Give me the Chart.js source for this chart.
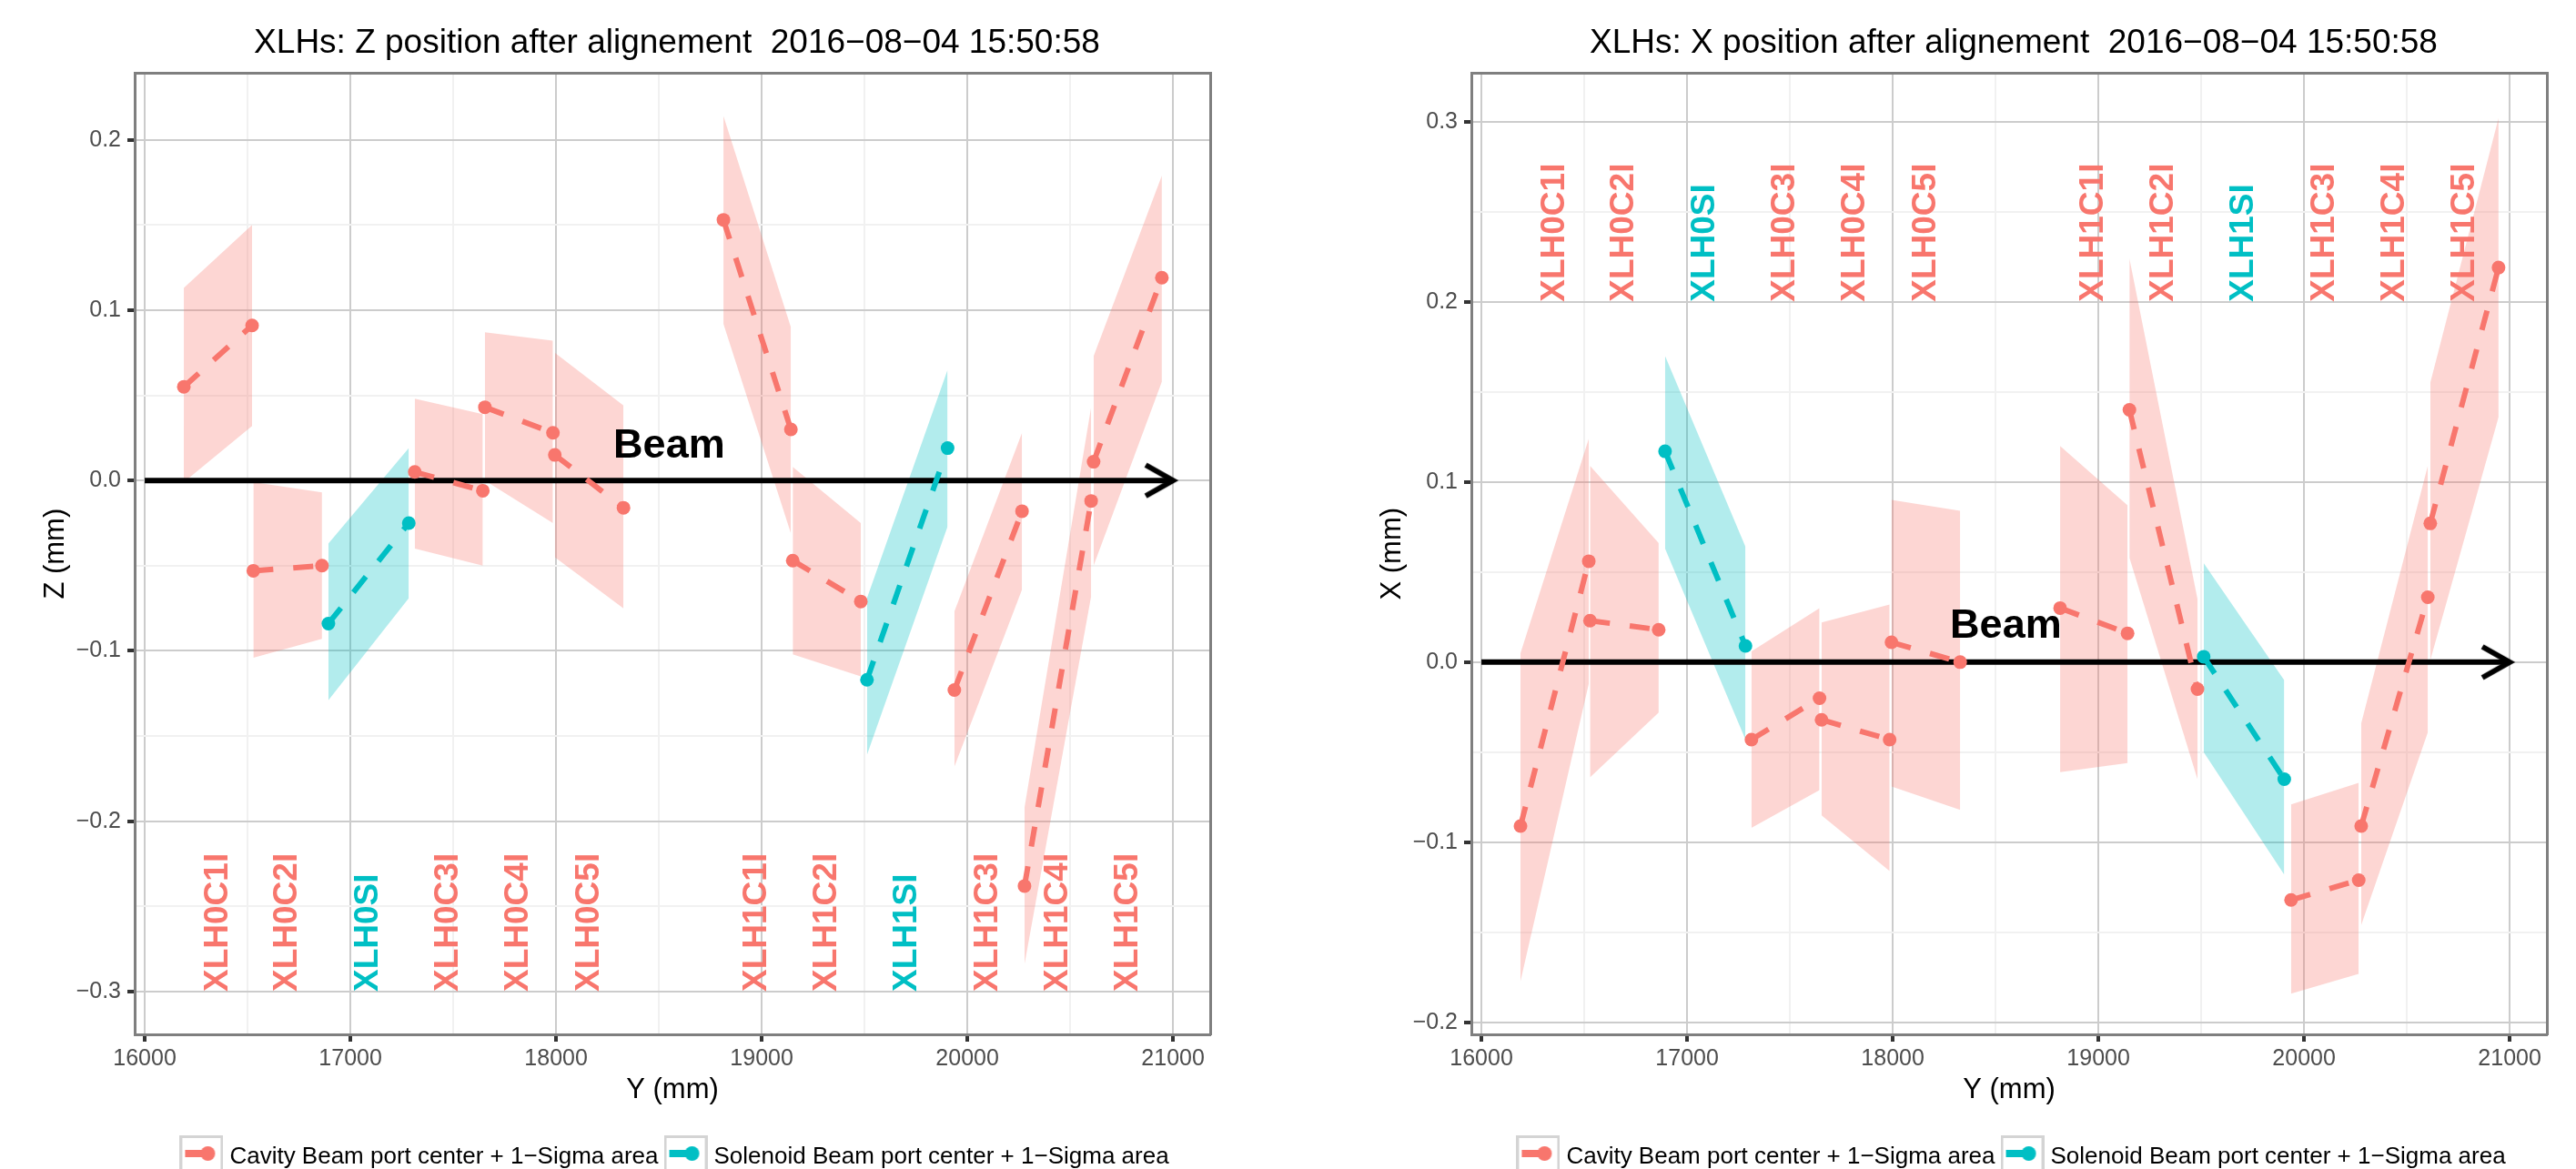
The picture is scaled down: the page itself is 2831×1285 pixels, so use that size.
<!DOCTYPE html>
<html>
<head>
<meta charset="utf-8">
<title>XLHs position after alignement</title>
<script src="https://cdn.jsdelivr.net/npm/chart.js@4.4.1/dist/chart.umd.min.js"></script>
<style>
  html, body { margin: 0; padding: 0; background: #fff; overflow: hidden; width: 2831px; height: 1285px; }
  canvas { position: absolute; top: 0; }
  #grafico-z { left: 0; }
  #grafico-x { left: 1469px; }
</style>
</head>
<body>
<canvas id="grafico-z" width="1488" height="1295" style="width:1488px;height:1295px"></canvas>
<canvas id="grafico-x" width="1488" height="1295" style="width:1488px;height:1295px"></canvas>
<script>
// Elementos do cryomodule (ordem ao longo do feixe)
const elementos = ['XLH0C1I', 'XLH0C2I', 'XLH0SI', 'XLH0C3I', 'XLH0C4I', 'XLH0C5I',
                   'XLH1C1I', 'XLH1C2I', 'XLH1SI', 'XLH1C3I', 'XLH1C4I', 'XLH1C5I'];
const tipos = ['Cavity', 'Cavity', 'Solenoid', 'Cavity', 'Cavity', 'Cavity',
               'Cavity', 'Cavity', 'Solenoid', 'Cavity', 'Cavity', 'Cavity'];

// Posicao Y (mm) das duas extremidades de cada elemento
const yEntrada = [16190, 16528, 16893, 17313, 17654, 17994, 18814, 19151, 19512, 19937, 20278, 20614];
const ySaida   = [16522, 16862, 17284, 17644, 17985, 18328, 19142, 19482, 19904, 20266, 20602, 20946];

// Painel Z: centro + area 1-sigma
const zEntrada    = [0.055, -0.053, -0.084, 0.005, 0.043, 0.015, 0.153, -0.047, -0.117, -0.123, -0.238, 0.011];
const zSaida      = [0.091, -0.050, -0.025, -0.006, 0.028, -0.016, 0.030, -0.071, 0.019, -0.018, -0.012, 0.119];
const zEntradaMin = [-0.001, -0.104, -0.129, -0.040, 0.000, -0.045, 0.092, -0.102, -0.161, -0.168, -0.284, -0.050];
const zEntradaMax = [0.113, -0.001, -0.037, 0.048, 0.087, 0.075, 0.214, 0.008, -0.069, -0.077, -0.192, 0.073];
const zSaidaMin   = [0.032, -0.093, -0.069, -0.050, -0.025, -0.075, -0.031, -0.115, -0.027, -0.064, -0.068, 0.058];
const zSaidaMax   = [0.150, -0.007, 0.019, 0.039, 0.082, 0.044, 0.090, -0.025, 0.065, 0.028, 0.043, 0.179];

// Painel X: centro + area 1-sigma
const xEntrada    = [-0.091, 0.023, 0.117, -0.043, -0.032, 0.011, 0.030, 0.140, 0.003, -0.132, -0.091, 0.077];
const xSaida      = [0.056, 0.018, 0.009, -0.020, -0.043, 0.000, 0.016, -0.015, -0.065, -0.121, 0.036, 0.219];
const xEntradaMin = [-0.177, -0.064, 0.063, -0.092, -0.085, -0.069, -0.061, 0.058, -0.050, -0.184, -0.146, 0.001];
const xEntradaMax = [0.005, 0.109, 0.170, 0.006, 0.022, 0.090, 0.120, 0.224, 0.055, -0.079, -0.034, 0.155];
const xSaidaMin   = [-0.012, -0.028, -0.043, -0.071, -0.116, -0.082, -0.056, -0.065, -0.118, -0.173, -0.039, 0.136];
const xSaidaMax   = [0.124, 0.066, 0.064, 0.030, 0.032, 0.084, 0.087, 0.035, -0.010, -0.067, 0.109, 0.302];

// Eixos
const posYMaiores = [16000, 17000, 18000, 19000, 20000, 21000];
const posYMenores = [16500, 17500, 18500, 19500, 20500];
const zMaiores = [-0.3, -0.2, -0.1, 0, 0.1, 0.2];
const zMenores = [-0.25, -0.15, -0.05, 0.05, 0.15];
const xMaiores = [-0.2, -0.1, 0, 0.1, 0.2, 0.3];
const xMenores = [-0.15, -0.05, 0.05, 0.15, 0.25];

// Seta do feixe e texto "Beam"
const feixeInicio = 16000;
const feixeFim = 21000;
const textoFeixe = { y: 18550, v: 0.02 };

const FONTE = '"Liberation Sans", Arial, Helvetica, sans-serif';
const cores = { Cavity: '#F8766D', Solenoid: '#00BFC4' };
const coresFaixa = { Cavity: 'rgba(248, 118, 109, 0.3)', Solenoid: 'rgba(0, 191, 196, 0.3)' };

Chart.defaults.font.family = FONTE;

/**
 * Desenha a ponta aberta da seta (a ponta fica no centro da imagem)
 */
function criarPontaSeta() {
  const c = document.createElement('canvas');
  c.width = 80; c.height = 48;
  const g = c.getContext('2d');
  g.strokeStyle = '#000';
  g.lineWidth = 6;
  g.lineJoin = 'miter';
  g.beginPath();
  g.moveTo(10, 7);
  g.lineTo(40, 24);
  g.lineTo(10, 41);
  g.stroke();
  return c;
}

/**
 * Chave da legenda (caixa cinza + linha + ponto)
 */
function criarChave(cor) {
  const c = document.createElement('canvas');
  c.width = 48; c.height = 48;
  const g = c.getContext('2d');
  g.strokeStyle = '#d4d4d4';
  g.lineWidth = 3;
  g.strokeRect(1.5, 1.5, 45, 45);
  g.fillStyle = cor;
  g.fillRect(6, 16, 32, 8);
  g.beginPath();
  g.arc(31, 20, 8, 0, Math.PI * 2);
  g.fill();
  return c;
}

const pontaSeta = criarPontaSeta();

// Rotulos dos elementos e texto "Beam"
const pluginRotulos = {
  id: 'rotulos',
  afterDatasetsDraw(chart, args, opts) {
    const { ctx, scales } = chart;
    const sx = scales.x, sy = scales.y;
    ctx.save();
    ctx.font = 'bold 37px ' + FONTE;
    ctx.textAlign = 'left';
    ctx.textBaseline = 'middle';
    elementos.forEach((nome, i) => {
      const px = sx.getPixelForValue((yEntrada[i] + ySaida[i]) / 2);
      const py = sy.getPixelForValue(opts.base);
      ctx.save();
      ctx.translate(px, py);
      ctx.rotate(-Math.PI / 2);
      ctx.fillStyle = cores[tipos[i]];
      ctx.fillText(nome, 0, 0);
      ctx.restore();
    });
    ctx.font = 'bold 45px ' + FONTE;
    ctx.textAlign = 'center';
    ctx.fillStyle = '#000';
    ctx.fillText('Beam', sx.getPixelForValue(textoFeixe.y), sy.getPixelForValue(textoFeixe.v));
    ctx.restore();
  }
};

/**
 * Monta os datasets de um painel
 */
function montarDatasets(entrada, saida, eMin, eMax, sMin, sMax) {
  const ds = [];
  elementos.forEach((nome, i) => {
    const tipo = tipos[i];
    // limite inferior da faixa
    ds.push({
      data: [{ x: yEntrada[i], y: eMin[i] }, { x: ySaida[i], y: sMin[i] }],
      borderColor: 'transparent', borderWidth: 0, pointRadius: 0, fill: false, order: 2
    });
    // limite superior, preenchido ate o anterior
    ds.push({
      data: [{ x: yEntrada[i], y: eMax[i] }, { x: ySaida[i], y: sMax[i] }],
      borderColor: 'transparent', borderWidth: 0, pointRadius: 0,
      fill: '-1', backgroundColor: coresFaixa[tipo], order: 2
    });
    // centro do beam port
    ds.push({
      label: nome,
      data: [{ x: yEntrada[i], y: entrada[i] }, { x: ySaida[i], y: saida[i] }],
      borderColor: cores[tipo], borderWidth: 6, borderDash: [22, 22],
      pointRadius: 7.5, pointBackgroundColor: cores[tipo], pointBorderWidth: 0,
      fill: false, order: 0
    });
  });
  // seta do feixe
  ds.push({
    data: [{ x: feixeInicio, y: 0 }, { x: feixeFim, y: 0 }],
    borderColor: '#000', borderWidth: 6, fill: false,
    pointRadius: [0, 1], pointStyle: ['circle', pontaSeta], pointBorderWidth: 0,
    order: 1
  });
  return ds;
}

function formatarValor(v) {
  return (v < 0 ? '\u2212' : '') + Math.abs(v).toFixed(1);
}

/**
 * Cria um painel completo
 */
function criarPainel(idCanvas, titulo, tituloEixo, limites, maiores, menores, baseRotulos, datasets) {
  const ctx = document.getElementById(idCanvas).getContext('2d');
  const corGrade = (lista) => (c) => (c.tick && lista.includes(c.tick.value)) ? '#cccccc' : '#f1f1f1';
  const corTick = (lista) => (c) => (c.tick && lista.includes(c.tick.value)) ? '#333333' : 'rgba(0,0,0,0)';
  const borda = { display: true, color: '#7f7f7f', width: 3 };

  return new Chart(ctx, {
    type: 'line',
    data: { datasets },
    plugins: [pluginRotulos],
    options: {
      responsive: false,
      maintainAspectRatio: false,
      animation: false,
      events: [],
      devicePixelRatio: 1,
      layout: { padding: 0 },
      scales: {
        x: {
          type: 'linear', position: 'bottom', min: 15951, max: 21181,
          afterBuildTicks: (s) => { s.ticks = posYMaiores.concat(posYMenores).sort((a, b) => a - b).map(v => ({ value: v })); },
          afterFit: (s) => { s.height = 110; },
          ticks: {
            autoSkip: false, maxRotation: 0, padding: 4, color: '#4d4d4d', font: { size: 25 },
            callback: (v) => posYMaiores.includes(v) ? String(v) : ''
          },
          grid: { color: corGrade(posYMaiores), lineWidth: 2, tickLength: 8, tickWidth: 4, tickColor: corTick(posYMaiores) },
          border: borda,
          title: { display: true, text: 'Y (mm)', color: '#000', font: { size: 31 }, padding: { top: 0, bottom: 30 } }
        },
        xTopo: {
          type: 'linear', position: 'top', min: 15951, max: 21181,
          afterFit: (s) => { s.height = 0; },
          ticks: { display: false },
          grid: { display: false, drawTicks: false },
          border: borda
        },
        y: {
          type: 'linear', position: 'left', min: limites[0], max: limites[1],
          afterBuildTicks: (s) => { s.ticks = maiores.concat(menores).sort((a, b) => a - b).map(v => ({ value: v })); },
          afterFit: (s) => { s.width = 148; },
          ticks: {
            autoSkip: false, padding: 7, color: '#4d4d4d', font: { size: 25 },
            callback: (v) => maiores.includes(v) ? formatarValor(v) : ''
          },
          grid: { color: corGrade(maiores), lineWidth: 2, tickLength: 8, tickWidth: 4, tickColor: corTick(maiores) },
          border: borda,
          title: { display: true, text: tituloEixo, color: '#000', font: { size: 31 }, padding: { top: 43, bottom: 0 } }
        },
        yDireita: {
          type: 'linear', position: 'right',
          afterFit: (s) => { s.width = 158; },
          ticks: { display: false },
          grid: { display: false, drawTicks: false },
          border: borda
        }
      },
      plugins: {
        rotulos: { base: baseRotulos },
        tooltip: { enabled: false },
        title: {
          display: true, text: titulo, color: '#000',
          font: { size: 37, weight: 'normal' }, padding: { top: 26, bottom: 10 }
        },
        legend: {
          display: true, position: 'bottom', align: 'center',
          labels: {
            usePointStyle: true, pointStyleWidth: 36, padding: 12,
            color: '#000', font: { size: 26 },
            generateLabels: () => ['Cavity', 'Solenoid'].map((t, i) => ({
              text: t + ' Beam port center + 1\u2212Sigma area',
              pointStyle: criarChave(cores[t]),
              fillStyle: 'rgba(0,0,0,0)', strokeStyle: 'rgba(0,0,0,0)', lineWidth: 0,
              fontColor: '#000', hidden: false, datasetIndex: i
            }))
          }
        }
      }
    }
  });
}

document.addEventListener('DOMContentLoaded', () => {
  window.graficoZ = criarPainel('grafico-z',
    'XLHs: Z position after alignement  2016\u221208\u221204 15:50:58', 'Z (mm)',
    [-0.3251, 0.2391], zMaiores, zMenores, -0.3,
    montarDatasets(zEntrada, zSaida, zEntradaMin, zEntradaMax, zSaidaMin, zSaidaMax));

  window.graficoX = criarPainel('grafico-x',
    'XLHs: X position after alignement  2016\u221208\u221204 15:50:58', 'X (mm)',
    [-0.2066, 0.3269], xMaiores, xMenores, 0.2,
    montarDatasets(xEntrada, xSaida, xEntradaMin, xEntradaMax, xSaidaMin, xSaidaMax));
});
</script>
</body>
</html>
